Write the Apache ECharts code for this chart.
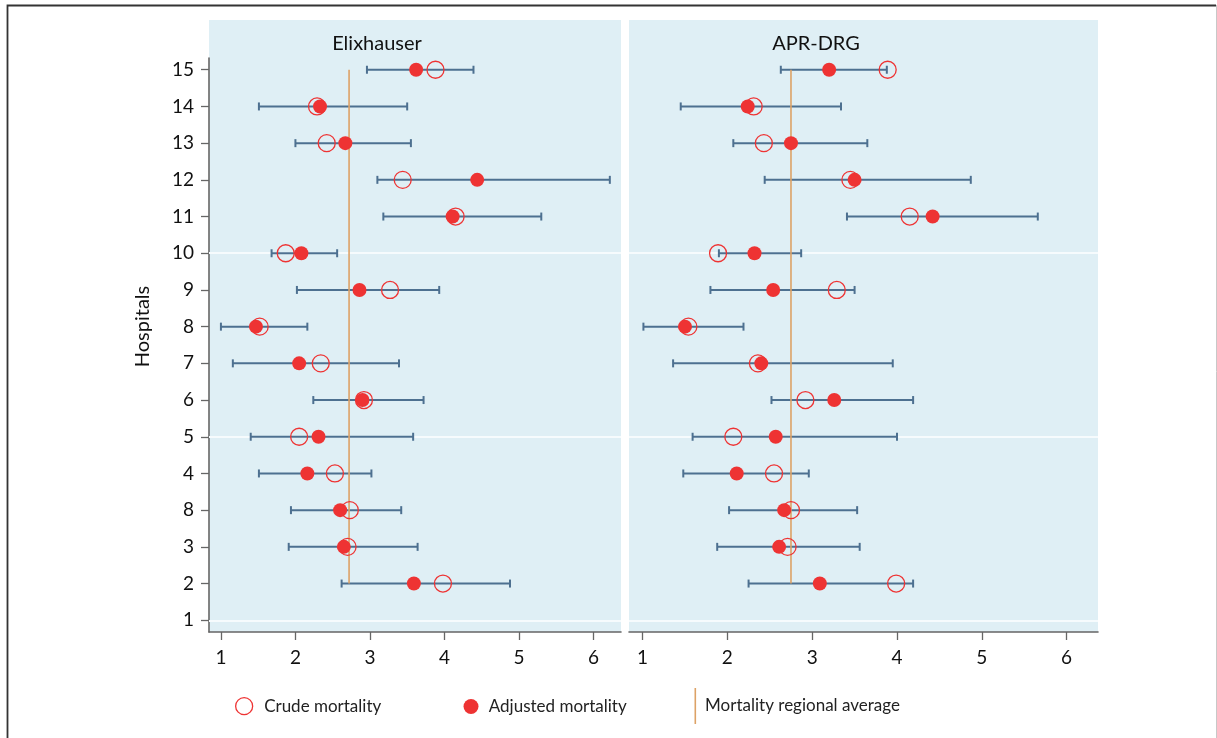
<!DOCTYPE HTML>
<html lang="en">
<head>
<meta charset="utf-8">
<title>Hospital mortality - Elixhauser vs APR-DRG</title>
<style>
html, body {
  margin: 0;
  background: #fff;
}
#chart {
  width: 1217px;
  height: 738px;
}
</style>
</head>
<body>
<div id="chart"></div>
<script src="https://cdn.jsdelivr.net/npm/echarts@6/dist/echarts.min.js"></script>
<script>
// row labels bottom -> top, as printed on the original axis (row 1 has no data)
var rowLabels = ['1', '2', '3', '8', '4', '5', '6', '7', '8', '9', '10', '11', '12', '13', '14', '15'];
var xTicks = [1, 2, 3, 4, 5, 6];

// rows 2..16 (labels '2' .. '15')
var elixLow   = [2.62, 1.91, 1.94, 1.51, 1.40, 2.24, 1.16, 1.00, 2.02, 1.68, 3.18, 3.10, 2.00, 1.51, 2.96];
var elixHigh  = [4.88, 3.64, 3.42, 3.02, 3.58, 3.72, 3.39, 2.16, 3.93, 2.56, 5.30, 6.22, 3.55, 3.50, 4.39];
var elixAdj   = [3.59, 2.65, 2.60, 2.16, 2.31, 2.90, 2.05, 1.47, 2.86, 2.08, 4.11, 4.44, 2.67, 2.33, 3.62];
var elixCrude = [3.98, 2.70, 2.73, 2.53, 2.05, 2.92, 2.34, 1.52, 3.27, 1.87, 4.15, 3.44, 2.42, 2.29, 3.88];
var elixAvg = 2.72;

var aprLow   = [2.25, 1.88, 2.02, 1.48, 1.59, 2.52, 1.36, 1.01, 1.80, 1.90, 3.41, 2.44, 2.07, 1.45, 2.63];
var aprHigh  = [4.19, 3.56, 3.53, 2.96, 4.00, 4.19, 3.95, 2.19, 3.50, 2.87, 5.66, 4.87, 3.65, 3.34, 3.88];
var aprAdj   = [3.09, 2.61, 2.67, 2.11, 2.57, 3.26, 2.40, 1.50, 2.54, 2.32, 4.42, 3.50, 2.75, 2.24, 3.20];
var aprCrude = [3.99, 2.71, 2.75, 2.55, 2.07, 2.92, 2.36, 1.54, 3.29, 1.89, 4.15, 3.45, 2.43, 2.31, 3.89];
var aprAvg = 2.75;

var gridRows = [1, 6, 11];

var FONT = 'Lato';
var RED = '#ee3333';
var BAR = '#4d7090';
var AVG = '#dda266';

function pts(vals) {
  return vals.map(function (v, i) { return [v, i + 2]; });
}
function bars(lo, hi) {
  return lo.map(function (v, i) { return [v, hi[i], i + 2]; });
}

function errorBar(params, api) {
  var y = api.value(2);
  var a = api.coord([api.value(0), y]);
  var b = api.coord([api.value(1), y]);
  var h = 4;
  var style = { stroke: BAR, lineWidth: 2, fill: null };
  return {
    type: 'group',
    children: [
      { type: 'line', shape: { x1: a[0], y1: a[1], x2: b[0], y2: b[1] }, style: style },
      { type: 'line', shape: { x1: a[0], y1: a[1] - h, x2: a[0], y2: a[1] + h }, style: style },
      { type: 'line', shape: { x1: b[0], y1: b[1] - h, x2: b[0], y2: b[1] + h }, style: style }
    ]
  };
}

function panelSeries(idx, lo, hi, adj, crude, avg) {
  return [
    {
      // white grid lines, kept under everything else
      type: 'line',
      xAxisIndex: idx,
      yAxisIndex: idx,
      data: [],
      z: 1,
      markLine: {
        z: 1,
        silent: true,
        symbol: ['none', 'none'],
        label: { show: false },
        lineStyle: { color: '#f6fbfd', width: 2, type: 'solid' },
        animation: false,
        data: gridRows.map(function (r) { return { yAxis: r }; })
      }
    },
    {
      type: 'custom',
      xAxisIndex: idx,
      yAxisIndex: idx,
      renderItem: errorBar,
      encode: { x: [0, 1], y: 2 },
      data: bars(lo, hi),
      z: 3
    },
    {
      name: 'Mortality regional average',
      type: 'line',
      xAxisIndex: idx,
      yAxisIndex: idx,
      showSymbol: false,
      lineStyle: { color: AVG, width: 1.6 },
      itemStyle: { color: AVG },
      data: [[avg, 2], [avg, 16]],
      z: 4
    },
    {
      name: 'Crude mortality',
      type: 'scatter',
      xAxisIndex: idx,
      yAxisIndex: idx,
      symbol: 'circle',
      symbolSize: 17,
      itemStyle: { color: 'rgba(0,0,0,0)', borderColor: RED, borderWidth: 1.3, opacity: 1 },
      data: pts(crude),
      z: 5
    },
    {
      name: 'Adjusted mortality',
      type: 'scatter',
      xAxisIndex: idx,
      yAxisIndex: idx,
      symbol: 'circle',
      symbolSize: 14,
      itemStyle: { color: RED, opacity: 1 },
      data: pts(adj),
      z: 6
    }
  ];
}

function xAxisOpt(idx) {
  return {
    type: 'value',
    gridIndex: idx,
    min: 0.84,
    max: 6.37,
    axisLine: { show: true, lineStyle: { color: '#666', width: 1.6 } },
    axisTick: { show: true, length: 8, customValues: xTicks, lineStyle: { color: '#666', width: 1.3 } },
    axisLabel: { customValues: xTicks, margin: 16, color: '#111', fontFamily: FONT, fontSize: 19 },
    splitLine: { show: false }
  };
}

function yAxisOpt(idx, visible) {
  var pos = rowLabels.map(function (l, i) { return i + 1; });
  return {
    type: 'value',
    gridIndex: idx,
    min: 0.68,
    max: 16.32,
    name: visible ? 'Hospitals' : '',
    nameLocation: 'middle',
    nameGap: 56,
    nameTextStyle: { color: '#111', fontFamily: FONT, fontSize: 20, padding: [0, 0, 0, 37] },
    axisLine: { show: visible, lineStyle: { color: '#666', width: 1.6 } },
    axisTick: { show: visible, length: 8, customValues: pos, lineStyle: { color: '#666', width: 1.3 } },
    axisLabel: {
      show: visible,
      customValues: pos,
      margin: 15,
      color: '#111',
      fontFamily: FONT,
      fontSize: 19,
      formatter: function (v) { return rowLabels[Math.round(v) - 1]; }
    },
    splitLine: { show: false }
  };
}

var legendText = { fontFamily: FONT, fontSize: 17, color: '#222' };

var chart = echarts.init(document.getElementById('chart'));
chart.setOption({
  animation: false,
  title: [
    { text: 'Elixhauser', left: 372, top: 29, textAlign: 'center', textStyle: { fontFamily: FONT, fontSize: 20, fontWeight: 'normal', color: '#111' } },
    { text: 'APR-DRG', left: 811, top: 29, textAlign: 'center', textStyle: { fontFamily: FONT, fontSize: 20, fontWeight: 'normal', color: '#111' } }
  ],
  graphic: [
    { type: 'rect', z: -10, shape: { x: 209, y: 20, width: 412, height: 612 }, style: { fill: '#dfeff5' }, silent: true },
    { type: 'rect', z: -10, shape: { x: 629, y: 20, width: 469, height: 612 }, style: { fill: '#dfeff5' }, silent: true },
    { type: 'polyline', shape: { points: [[7.5, 738], [7.5, 5.5], [1216, 5.5]] }, style: { stroke: '#333', lineWidth: 1.8, fill: null }, silent: true },
    { type: 'line', shape: { x1: 1216.5, y1: 5, x2: 1216.5, y2: 738 }, style: { stroke: '#c8c8c8', lineWidth: 1 }, silent: true }
  ],
  legend: [
    {
      left: 235, top: 697, padding: 0, itemWidth: 30, itemHeight: 17,
      textStyle: legendText,
      data: [{ name: 'Crude mortality', icon: 'circle', itemStyle: { color: 'rgba(0,0,0,0)', borderColor: RED, borderWidth: 1.3 } }]
    },
    {
      left: 463.5, top: 698, padding: 0, itemWidth: 25.5, itemHeight: 15,
      textStyle: legendText,
      data: [{ name: 'Adjusted mortality', icon: 'circle', itemStyle: { color: RED } }]
    },
    {
      left: 694.5, top: 688, padding: 0, itemWidth: 1.6, itemHeight: 36,
      textStyle: Object.assign({ padding: [0, 0, 0, 4] }, legendText),
      data: [{ name: 'Mortality regional average', icon: 'rect', itemStyle: { color: AVG } }]
    }
  ],
  grid: [
    { left: 209, top: 58, width: 412, height: 574 },
    { left: 629, top: 58, width: 469, height: 574 }
  ],
  xAxis: [xAxisOpt(0), xAxisOpt(1)],
  yAxis: [yAxisOpt(0, true), yAxisOpt(1, false)],
  series: []
    .concat(panelSeries(0, elixLow, elixHigh, elixAdj, elixCrude, elixAvg))
    .concat(panelSeries(1, aprLow, aprHigh, aprAdj, aprCrude, aprAvg))
});
</script>
</body>
</html>
